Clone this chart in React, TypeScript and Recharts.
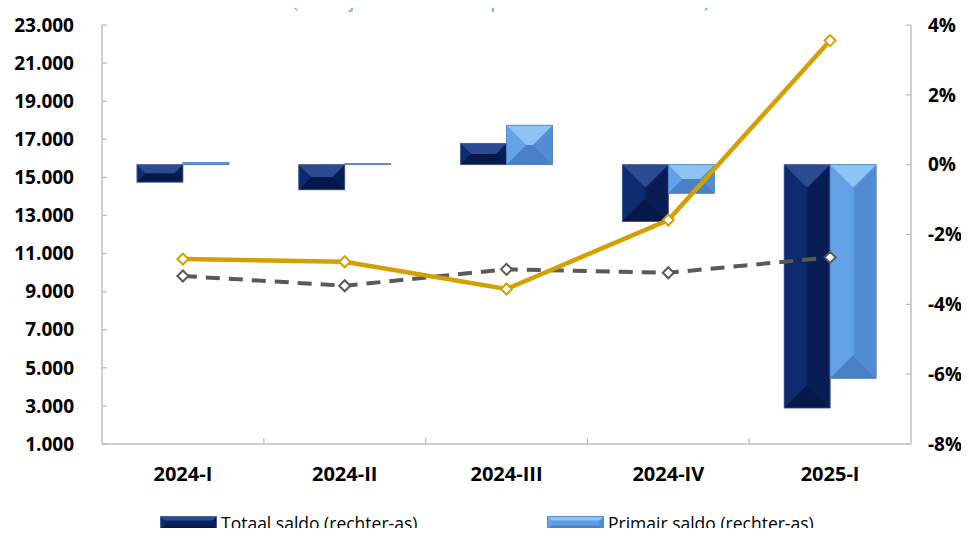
import React from 'react';
import { ComposedChart, Bar, Line, XAxis, YAxis, Legend } from 'recharts';

// Kwartalen
const categories = ['2024-I', '2024-II', '2024-III', '2024-IV', '2025-I'];

// Saldi in procenten van het BBP (rechter-as)
const totaalSaldo = [-0.5, -0.72, 0.61, -1.63, -6.97];
const primairSaldo = [0.06, 0.03, 1.13, -0.82, -6.12];

// Bedragen in miljoenen (linker-as)
const inkomsten = [9820, 9310, 10170, 9990, 10800];
const uitgaven = [10710, 10570, 9140, 12760, 22180];

const leftTicks = [1000, 3000, 5000, 7000, 9000, 11000, 13000, 15000, 17000, 19000, 21000, 23000];
const rightTicks = [-8, -6, -4, -2, 0, 2, 4];

const data = categories.map((cat, i) => ({
  cat,
  totaal: totaalSaldo[i],
  primair: primairSaldo[i],
  inkomsten: inkomsten[i],
  uitgaven: uitgaven[i],
}));

const W = 969;
const H = 564;
const LEFT_W = 102;
const RIGHT_W = 58;
const TOP = 25;
const XAXIS_H = 50;
const LEGEND_H = 70;
const PLOT_W = W - LEFT_W - RIGHT_W;
const BAND = PLOT_W / categories.length;

const FONT = '"Open Sans", "Noto Sans", sans-serif';
const AXIS_GREY = '#BFBFBF';
const GOLD = '#D4A000';
const GREY_LINE = '#595959';

type Palette = { base: string; top: string; bottom: string; left: string; right: string; edge: string };

const darkPal: Palette = {
  base: '#0A2260',
  top: '#2C4B92',
  bottom: '#061848',
  left: '#0F2B70',
  right: '#081C55',
  edge: '#46609A',
};

const lightPal: Palette = {
  base: '#5F9DE4',
  top: '#8EC3F5',
  bottom: '#4A80C6',
  left: '#64A2E8',
  right: '#528CD2',
  edge: '#4F7FBF',
};

const fmtThousands = (v: number) => v.toLocaleString('nl-NL').replace(/,/g, '.');

function BevelRect({ x, y, w, h, pal, maxDepth = 22 }: { x: number; y: number; w: number; h: number; pal: Palette; maxDepth?: number }) {
  if (h < 0) {
    y = y + h;
    h = -h;
  }
  if (!w || h <= 0) return null;
  const d = Math.min(maxDepth, w / 2, h / 2);
  const p = (pts: number[][]) => pts.map((q) => q.join(',')).join(' ');
  return (
    <g>
      <rect x={x} y={y} width={w} height={h} fill={pal.base} />
      <polygon points={p([[x, y], [x + d, y + d], [x + d, y + h - d], [x, y + h]])} fill={pal.left} />
      <polygon points={p([[x + w, y], [x + w - d, y + d], [x + w - d, y + h - d], [x + w, y + h]])} fill={pal.right} />
      <polygon points={p([[x, y], [x + w, y], [x + w - d, y + d], [x + d, y + d]])} fill={pal.top} />
      <polygon points={p([[x, y + h], [x + w, y + h], [x + w - d, y + h - d], [x + d, y + h - d]])} fill={pal.bottom} />
      <rect x={x} y={y} width={w} height={h} fill="none" stroke={pal.edge} strokeWidth={0.8} />
    </g>
  );
}

const barShape = (pal: Palette) => (props: any) => {
  const { x, y, width, height } = props;
  return <BevelRect x={x} y={y} w={width} h={height} pal={pal} />;
};

const diamondDot = (color: string) => (props: any) => {
  const { cx, cy, index } = props;
  if (cx == null || cy == null) return <g key={index} />;
  const r = 5.5;
  return (
    <polygon
      key={index}
      points={`${cx},${cy - r} ${cx + r},${cy} ${cx},${cy + r} ${cx - r},${cy}`}
      fill="#FFFFFF"
      stroke={color}
      strokeWidth={2}
    />
  );
};

const LEFT_MARGIN = 28;
const RIGHT_MARGIN = 17;
const X_MARGIN = 23;
const TICK_FONT = 19;

const LeftTick = (props: any) => {
  const { x, y, payload } = props;
  return (
    <g>
      <line x1={x + LEFT_MARGIN} x2={x + LEFT_MARGIN + 5} y1={y} y2={y} stroke={AXIS_GREY} strokeWidth={1.3} />
      <text x={x} y={y} dy="0.355em" textAnchor="end" fontFamily={FONT} fontWeight={700} fontSize={TICK_FONT} fill="#000">
        {fmtThousands(payload.value)}
      </text>
    </g>
  );
};

const RightTick = (props: any) => {
  const { x, y, payload } = props;
  return (
    <g>
      <line x1={x - RIGHT_MARGIN} x2={x - RIGHT_MARGIN - 5} y1={y} y2={y} stroke={AXIS_GREY} strokeWidth={1.3} />
      <text x={x} y={y} dy="0.355em" textAnchor="start" fontFamily={FONT} fontWeight={700} fontSize={TICK_FONT} fill="#000">
        {`${payload.value}%`}
      </text>
    </g>
  );
};

const CatTick = (props: any) => {
  const { x, y, payload, index } = props;
  const axisY = y - X_MARGIN;
  return (
    <g>
      {index > 0 && (
        <line x1={x - BAND / 2} x2={x - BAND / 2} y1={axisY} y2={axisY - 6} stroke={AXIS_GREY} strokeWidth={1.3} />
      )}
      <text x={x} y={y} dy="0.71em" textAnchor="middle" fontFamily={FONT} fontWeight={700} fontSize={20} fill="#000">
        {payload.value}
      </text>
    </g>
  );
};

const LegendIcon = ({ pal }: { pal: Palette }) => (
  <svg width={57} height={14} style={{ display: 'block' }}>
    <BevelRect x={0.5} y={0.5} w={56} h={13} pal={pal} maxDepth={4} />
  </svg>
);

const legendItems: { label: string; pal: Palette; left: number }[] = [
  { label: 'Totaal saldo (rechter-as)', pal: darkPal, left: 160 },
  { label: 'Primair saldo (rechter-as)', pal: lightPal, left: 547 },
];

const LegendContent = () => (
  <div style={{ position: 'relative', width: W, height: LEGEND_H, margin: 0, padding: 0 }}>
    {legendItems.map((it) => (
      <div
        key={it.label}
        style={{
          position: 'absolute',
          left: it.left,
          top: 19,
          height: 20,
          display: 'flex',
          alignItems: 'center',
          gap: 4,
          fontFamily: FONT,
          fontSize: 17.5,
          color: '#000',
          lineHeight: '20px',
          whiteSpace: 'nowrap',
        }}
      >
        <LegendIcon pal={it.pal} />
        <span>{it.label}</span>
      </div>
    ))}
  </div>
);

const PLOT_BOTTOM = H - LEGEND_H - XAXIS_H;

export default function App() {
  return (
    <div style={{ position: 'relative', margin: -8, width: W, height: 536, overflow: 'hidden', background: '#fff' }}>
      <svg width={W} height={20} style={{ position: 'absolute', left: 0, top: 0 }}>
        <text x={501} y={7} textAnchor="middle" fontFamily={FONT} fontSize={20} fill="#4DB3E8">
          (in miljoenen SRD en procenten van het BBP)
        </text>
      </svg>
      <ComposedChart
        width={W}
        height={H}
        data={data}
        margin={{ top: TOP, right: 0, bottom: 0, left: 0 }}
        barGap={0}
        barCategoryGap="21.6%"
      >
        <XAxis
          dataKey="cat"
          xAxisId="x"
          height={XAXIS_H}
          axisLine={{ stroke: AXIS_GREY, strokeWidth: 1.5 }}
          tickLine={false}
          tickSize={0}
          tickMargin={X_MARGIN}
          tick={<CatTick />}
          interval={0}
        />
        <YAxis
          yAxisId="left"
          orientation="left"
          width={LEFT_W}
          domain={[1000, 23000]}
          ticks={leftTicks}
          interval={0}
          axisLine={{ stroke: AXIS_GREY, strokeWidth: 1.5 }}
          tickLine={false}
          tickSize={0}
          tickMargin={LEFT_MARGIN}
          tick={<LeftTick />}
          allowDataOverflow
        />
        <YAxis
          yAxisId="right"
          orientation="right"
          width={RIGHT_W}
          domain={[-8, 4]}
          ticks={rightTicks}
          interval={0}
          axisLine={{ stroke: AXIS_GREY, strokeWidth: 1.5 }}
          tickLine={false}
          tickSize={0}
          tickMargin={RIGHT_MARGIN}
          tick={<RightTick />}
          allowDataOverflow
        />
        <Legend
          verticalAlign="bottom"
          content={<LegendContent />}
          wrapperStyle={{ left: 0, top: PLOT_BOTTOM + XAXIS_H, width: W, height: LEGEND_H, margin: 0, padding: 0 }}
        />
        <Bar
          dataKey="totaal"
          name="Totaal saldo (rechter-as)"
          xAxisId="x"
          yAxisId="right"
          shape={barShape(darkPal)}
          isAnimationActive={false}
        />
        <Bar
          dataKey="primair"
          name="Primair saldo (rechter-as)"
          xAxisId="x"
          yAxisId="right"
          shape={barShape(lightPal)}
          isAnimationActive={false}
        />
        <Line
          dataKey="inkomsten"
          name="Inkomsten (linker-as)"
          xAxisId="x"
          yAxisId="left"
          stroke={GREY_LINE}
          strokeWidth={4}
          strokeDasharray="14 9"
          dot={diamondDot(GREY_LINE)}
          activeDot={false}
          isAnimationActive={false}
        />
        <Line
          dataKey="uitgaven"
          name="Uitgaven (linker-as)"
          xAxisId="x"
          yAxisId="left"
          stroke={GOLD}
          strokeWidth={4.5}
          dot={diamondDot(GOLD)}
          activeDot={false}
          isAnimationActive={false}
        />
      </ComposedChart>
    </div>
  );
}
